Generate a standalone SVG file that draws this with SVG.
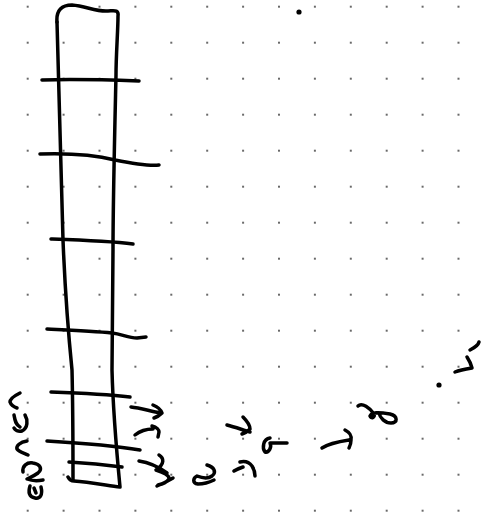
<svg xmlns="http://www.w3.org/2000/svg" width="488" height="515" viewBox="0 0 488 515">
<defs>
<pattern id="dots" patternUnits="userSpaceOnUse" x="9.75" y="-11.3" width="35.9" height="36">
<circle cx="17.95" cy="18" r="0.9" fill="#222"/>
</pattern>
<style>
.s{fill:none;stroke:#000;stroke-width:3.5;stroke-linecap:round;stroke-linejoin:round}
.d{fill:#000}
</style>
</defs>
<rect width="488" height="515" fill="#fff"/>
<rect width="488" height="515" fill="url(#dots)"/>
<g id="column">
<path class="s" d="M 57 22 C 56 10, 62 5, 72 5 C 86 6, 96 12, 108 11 C 113 11, 119 9, 118 16 C 118 30, 116 55, 116 75 C 115 120, 113 200, 113 250 L 112 370 C 113 410, 116 445, 120 487 C 105 485, 88 482, 74 481 C 71 481, 69 479, 68 477"/>
<path class="s" d="M 57 22 C 58 60, 61 150, 63 240 C 65 290, 68 330, 72 370 C 73 410, 73 450, 73 480"/>
</g>
<g id="rungs">
<path class="s" d="M 42 80 C 75 79, 110 80, 139 81"/>
<path class="s" d="M 40 154 C 70 153, 95 155, 115 160 C 135 164, 150 166, 159 165"/>
<path class="s" d="M 51 239 C 80 240, 110 241, 133 244"/>
<path class="s" d="M 47 329 C 70 330, 95 331, 112 333 C 122 334, 128 338, 137 338 L 146 337"/>
<path class="s" d="M 51 392 C 80 393, 105 394, 130 397"/>
<path class="s" d="M 47 441 C 80 443, 110 445, 140 450"/>
<path class="s" d="M 69 462 C 90 463, 108 465, 122 467"/>
</g>
<g id="left-marks">
<path class="s" d="M 20 393 C 14 396, 10 399, 10 402 C 11 405, 14 407, 17 408"/>
<path class="s" d="M 14 415 C 15 421, 16 425, 20 427 M 25 415 C 28 420, 28 428, 22 431 C 18 432, 15 430, 14 428"/>
<path class="s" d="M 27 441 C 20 442, 16 446, 17 449 C 19 452, 24 453, 28 455"/>
<path class="s" d="M 23 472 C 22 466, 27 462, 33 463 C 40 464, 43 469, 38 473 C 34 476, 29 478, 27 479 C 32 481, 38 481, 43 480"/>
<path class="s" d="M 30 486 C 28 492, 29 497, 35 498 C 40 499, 43 495, 41 487 M 34 488 L 36 493"/>
</g>
<g id="right-marks">
<path class="s" d="M 131 407 C 140 408, 150 411, 161 413 M 153 405 C 158 407, 161 410, 162 413 C 160 415, 157 417, 154 418"/>
<path class="s" d="M 135 435 C 140 431, 147 429, 153 429 M 152 426 C 157 427, 159 430, 159 432 L 158 437"/>
<path class="s" d="M 139 461 C 146 462, 156 465, 167 473 M 159 455 C 164 458, 165 464, 156 470 C 162 472, 170 475, 169 479 C 167 482, 163 484, 158 485 M 157 486 C 162 484, 168 481, 173 478"/>
<path class="s" d="M 207 465 C 214 467, 217 472, 212 476 C 208 479, 202 478, 197 476 C 193 478, 192 483, 198 484 C 204 484, 210 482, 214 480"/>
<path class="s" d="M 227 425 C 235 427, 243 430, 250 432 M 243 417 C 247 421, 250 426, 250 429 C 248 431, 245 433, 242 434"/>
<path class="s" d="M 270 438 C 263 439, 262 448, 265 452 C 269 453, 272 447, 270 443 C 276 443, 282 443, 287 443"/>
<path class="s" d="M 234 471 C 237 469, 240 468, 243 467 M 240 462 C 244 461, 249 462, 252 466 C 254 469, 255 473, 255 476"/>
<path class="s" d="M 322 448 C 328 444, 336 442, 349 440 M 345 430 C 349 432, 352 436, 351 440 C 351 444, 350 446, 349 448"/>
<path class="s" d="M 358 406 C 362 402, 370 408, 374 414 C 375 418, 371 419, 370 416 C 372 412, 378 412, 390 414 C 398 416, 398 423, 391 423 C 385 423, 380 418, 379 413"/>
<path class="s" d="M 455 372 C 460 370, 466 369, 472 368 C 471 364, 469 360, 467 357 M 470 350 C 474 348, 478 346, 479 342"/>
<circle class="d" cx="439" cy="385" r="2.6"/>
<circle class="d" cx="299" cy="12" r="2.6"/>
</g>
</svg>
